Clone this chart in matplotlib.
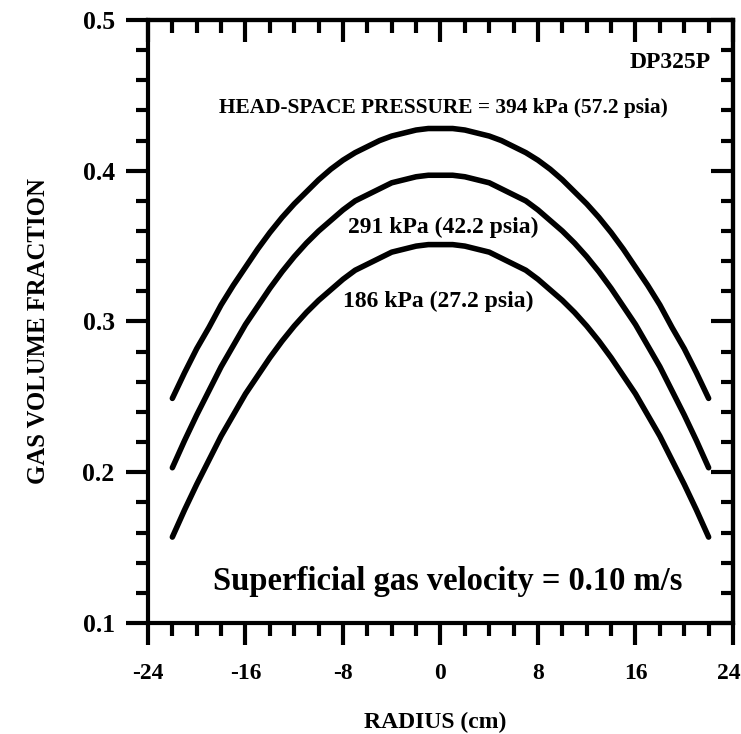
import matplotlib
matplotlib.use('Agg')
import matplotlib.pyplot as plt
import matplotlib.transforms as mtransforms
from matplotlib.ticker import MultipleLocator, FormatStrFormatter

# radius (cm) where the profiles were read
radius = list(range(-22, 23))

# gas volume fraction for each head-space pressure
hp_394 = [0.249, 0.266, 0.282, 0.296, 0.311, 0.324, 0.336, 0.348, 0.359,
          0.369, 0.378, 0.386, 0.394, 0.401, 0.407, 0.412, 0.416, 0.420,
          0.423, 0.425, 0.427, 0.428, 0.428, 0.428, 0.427, 0.425, 0.423,
          0.420, 0.416, 0.412, 0.407, 0.401, 0.394, 0.386, 0.378, 0.369,
          0.359, 0.348, 0.336, 0.324, 0.311, 0.296, 0.282, 0.266, 0.249]
hp_291 = [0.203, 0.221, 0.238, 0.254, 0.270, 0.284, 0.298, 0.310, 0.322,
          0.333, 0.343, 0.352, 0.360, 0.367, 0.374, 0.380, 0.384, 0.388,
          0.392, 0.394, 0.396, 0.397, 0.397, 0.397, 0.396, 0.394, 0.392,
          0.388, 0.384, 0.380, 0.374, 0.367, 0.360, 0.352, 0.343, 0.333,
          0.322, 0.310, 0.298, 0.284, 0.270, 0.254, 0.238, 0.221, 0.203]
hp_186 = [0.157, 0.175, 0.192, 0.208, 0.224, 0.238, 0.252, 0.264, 0.276,
          0.287, 0.297, 0.306, 0.314, 0.321, 0.328, 0.334, 0.338, 0.342,
          0.346, 0.348, 0.350, 0.351, 0.351, 0.351, 0.350, 0.348, 0.346,
          0.342, 0.338, 0.334, 0.328, 0.321, 0.314, 0.306, 0.297, 0.287,
          0.276, 0.264, 0.252, 0.238, 0.224, 0.208, 0.192, 0.175, 0.157]

x_ticks = [-24, -16, -8, 0, 8, 16, 24]
y_ticks = [0.1, 0.2, 0.3, 0.4, 0.5]

SERIF = 'Liberation Serif'

fig = plt.figure(figsize=(7.41, 7.34), dpi=100)
ax = fig.add_axes([0.1997, 0.1512, 0.7895, 0.8216])

for series in (hp_394, hp_291, hp_186):
    ax.plot(radius, series, '-', color='black', lw=4.0,
            solid_capstyle='round', solid_joinstyle='round')

ax.set_xlim(-24, 24)
ax.set_ylim(0.1, 0.5)

ax.xaxis.set_minor_locator(MultipleLocator(2))
ax.yaxis.set_minor_locator(MultipleLocator(0.02))
ax.set_xticks(x_ticks)
ax.set_yticks(y_ticks)
ax.set_xticklabels([str(t) for t in x_ticks])
ax.yaxis.set_major_formatter(FormatStrFormatter('%.1f'))

for sp in ax.spines.values():
    sp.set_linewidth(3.0)

# bottom / left ticks point out, top / right ticks point in
ax.tick_params(axis='x', which='both', bottom=True, top=False,
               direction='out', width=3.0, pad=13)
ax.tick_params(axis='y', which='both', left=True, right=False,
               direction='out', width=3.0, pad=8)
ax.tick_params(which='major', length=16)
ax.tick_params(which='minor', length=9)

for lab in ax.get_xticklabels():
    lab.set_fontfamily(SERIF)
    lab.set_fontweight('bold')
    lab.set_fontsize(17)
for lab in ax.get_yticklabels():
    lab.set_fontfamily(SERIF)
    lab.set_fontweight('bold')
    lab.set_fontsize(18.5)

# last x label sits on the figure edge, nudge it in a little
last = ax.get_xticklabels()[-1]
last.set_transform(last.get_transform() +
                   mtransforms.ScaledTranslation(-4 / 100, 0,
                                                 fig.dpi_scale_trans))

top = ax.secondary_xaxis('top')
top.xaxis.set_major_locator(MultipleLocator(8))
top.xaxis.set_minor_locator(MultipleLocator(2))
top.tick_params(which='both', direction='in', width=3.0, labeltop=False)
top.tick_params(which='major', length=16)
top.tick_params(which='minor', length=9)
top.spines['top'].set_linewidth(3.0)

right = ax.secondary_yaxis('right')
right.yaxis.set_major_locator(MultipleLocator(0.1))
right.yaxis.set_minor_locator(MultipleLocator(0.02))
right.tick_params(which='both', direction='in', width=3.0, labelright=False)
right.tick_params(which='major', length=16)
right.tick_params(which='minor', length=9)
right.spines['right'].set_linewidth(3.0)

ax.set_xlabel('RADIUS (cm)', fontfamily=SERIF, fontweight='bold',
              fontsize=17)
ax.set_ylabel('GAS VOLUME FRACTION', fontfamily=SERIF, fontweight='bold',
              fontsize=17.8)
ax.xaxis.set_label_coords(0.491, -0.148)
ax.yaxis.set_label_coords(-0.1675, 0.484)

txt = dict(fontfamily=SERIF, fontweight='bold', color='black')
ax.text(22.2, 0.468, 'DP325P', ha='right', va='baseline', fontsize=17, **txt)
ax.text(0.25, 0.4383, 'HEAD-SPACE PRESSURE = 394 kPa (57.2 psia)',
        ha='center', va='baseline', fontsize=15.4, **txt)
ax.text(0.25, 0.3587, '291 kPa (42.2 psia)', ha='center', va='baseline',
        fontsize=17, **txt)
ax.text(-0.15, 0.3096, '186 kPa (27.2 psia)', ha='center', va='baseline',
        fontsize=17, **txt)
ax.text(0.60, 0.1219, 'Superficial gas velocity = 0.10 m/s', ha='center',
        va='baseline', fontsize=23.5, **txt)

fig.savefig('out.png', dpi=100)
plt.close()
